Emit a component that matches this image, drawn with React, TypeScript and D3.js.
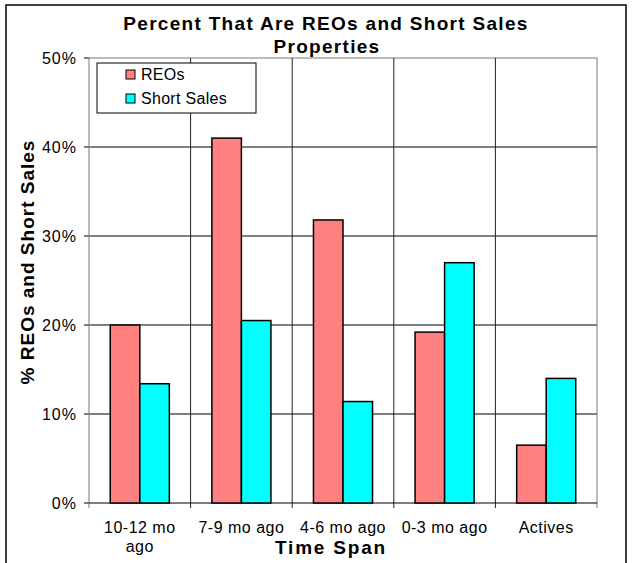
import React from "react";
import * as d3 from "d3";

const categories = ["10-12 mo ago", "7-9 mo ago", "4-6 mo ago", "0-3 mo ago", "Actives"];
const categoryLines = [["10-12 mo", "ago"], ["7-9 mo ago"], ["4-6 mo ago"], ["0-3 mo ago"], ["Actives"]];
const reos = [20, 41, 31.8, 19.2, 6.5];
const shortSales = [13.4, 20.5, 11.4, 27, 14];
const seriesNames = ["REOs", "Short Sales"];
const seriesColors = ["#FF8080", "#00FFFF"];
const yTicks = [0, 10, 20, 30, 40, 50];

const W = 633;
const H = 563;
const FONT = "Arial, 'Liberation Sans', sans-serif";

const App: React.FC = () => {
  const left = 89, right = 597, top = 58, bottom = 503;
  const x = d3.scaleBand<string>().domain(categories).range([left, right]);
  const inner = d3.scaleBand<string>().domain(seriesNames).range([0, x.bandwidth()]).paddingOuter(0.72).paddingInner(0);
  const y = d3.scaleLinear().domain([0, 50]).range([bottom, top]);
  const series = [reos, shortSales];
  const boundaries = categories.map(c => x(c)!).concat([right]);

  return (
    <svg width={W} height={H} style={{ position: "absolute", left: 0, top: 0, fontFamily: FONT }}>
      <rect x={0} y={0} width={W} height={H} fill="#fff" />
      <rect x={6} y={5} width={620} height={H + 10} fill="none" stroke="#000" strokeWidth={1.5} />

      <text x={326} y={30} textAnchor="middle" fontSize={19} fontWeight="bold" letterSpacing={1.3}>Percent That Are REOs and Short Sales</text>
      <text x={327} y={53} textAnchor="middle" fontSize={19} fontWeight="bold" letterSpacing={1.3}>Properties</text>

      {/* horizontal grid */}
      {yTicks.map(t => (
        <g key={t}>
          {t > 0 && <line x1={left} x2={right} y1={y(t)} y2={y(t)} stroke={t === 50 ? "#777" : "#000"} strokeWidth={1} />}
          <line x1={left - 5} x2={left} y1={y(t)} y2={y(t)} stroke="#000" strokeWidth={1} />
          <text x={77} y={y(t) + 6} textAnchor="end" fontSize={16} letterSpacing={1}>{t}%</text>
        </g>
      ))}

      {/* vertical grid at category boundaries */}
      {boundaries.map((b, i) => (
        <line key={i} x1={b} x2={b} y1={top} y2={bottom + 5} stroke={i === 0 || i === boundaries.length - 1 ? "#777" : "#222"} strokeWidth={1} />
      ))}
      <line x1={left} x2={right} y1={bottom} y2={bottom} stroke="#000" strokeWidth={1.2} />

      {/* bars */}
      {categories.map((c, ci) => (
        <g key={c}>
          {series.map((s, si) => (
            <rect
              key={si}
              x={x(c)! + inner(seriesNames[si])!}
              y={y(s[ci])}
              width={inner.bandwidth()}
              height={bottom - y(s[ci])}
              fill={seriesColors[si]}
              stroke="#000"
              strokeWidth={1.5}
            />
          ))}
        </g>
      ))}

      {/* legend */}
      <rect x={97} y={63} width={159} height={50} fill="#fff" stroke="#000" strokeWidth={1} />
      {seriesNames.map((n, i) => (
        <g key={n}>
          <rect x={126} y={70 + i * 24} width={9} height={9} fill={seriesColors[i]} stroke="#000" strokeWidth={1} />
          <text x={141} y={80 + i * 24} fontSize={16} letterSpacing={0.3}>{n}</text>
        </g>
      ))}

      {/* x labels */}
      {categories.map((c, ci) => (
        <text key={c} x={x(c)! + x.bandwidth() / 2} y={533} textAnchor="middle" fontSize={16} letterSpacing={0.5}>
          {categoryLines[ci].map((l, li) => (
            <tspan key={li} x={x(c)! + x.bandwidth() / 2} dy={li === 0 ? 0 : 19}>{l}</tspan>
          ))}
        </text>
      ))}
      <text x={331} y={554} textAnchor="middle" fontSize={19} fontWeight="bold" letterSpacing={1.8}>Time Span</text>

      <text transform="translate(34,262) rotate(-90)" textAnchor="middle" fontSize={19} fontWeight="bold" letterSpacing={1}>% REOs and Short Sales</text>
    </svg>
  );
};

export default App;
